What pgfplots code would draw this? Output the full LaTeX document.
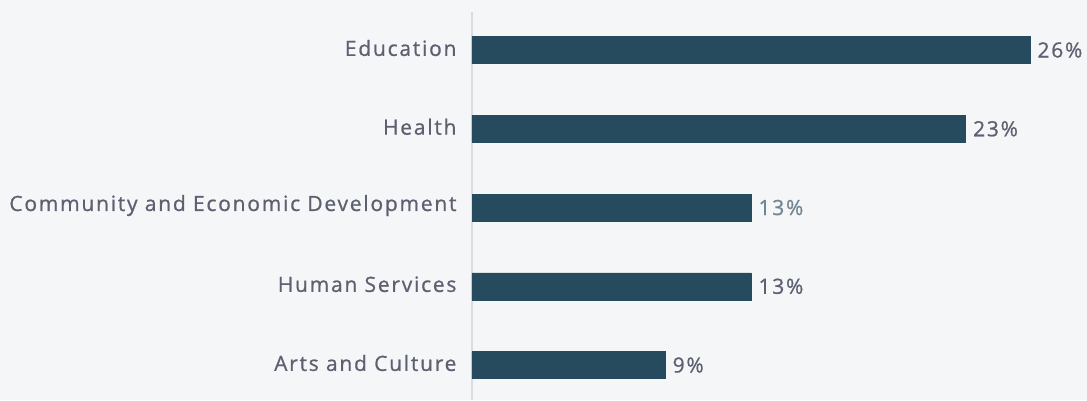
\documentclass[border=0pt]{standalone}
\usepackage{pgfplots}
\pgfplotsset{compat=1.18}
\usepackage{fontspec}
\setmainfont{Open Sans}[LetterSpace=8.4, FakeBold=0.8]
\definecolor{bg}{HTML}{F4F6F8}
\definecolor{barc}{HTML}{264A5E}
\definecolor{txt}{HTML}{5C6070}
\definecolor{txtl}{HTML}{728593}
\definecolor{axc}{HTML}{D9DCE0}
\begin{document}
\begin{tikzpicture}[x=1pt,y=1pt]
\fill[bg] (-472,0) rectangle (615,400);
\begin{axis}[
  at={(0,0)}, anchor=south west,
  scale only axis, width=558pt, height=388pt,
  xmin=0, xmax=26, ymin=-0.444, ymax=4.483,
  axis x line=none,
  axis y line*=left,
  y axis line style={draw=axc, line width=1.2pt, -},
  ytick={0,1,2,3,4},
  yticklabels={Arts and Culture,Human Services,Community and Economic Development,Health,Education},
  major tick length=0pt,
  yticklabel style={font=\fontsize{21}{24}\selectfont, text=txt, xshift=-12pt, yshift=2pt},
  xbar, bar width=27pt,
  nodes near coords,
  nodes near coords align={horizontal},
  nodes near coords style={font=\fontsize{21}{24}\selectfont, text=txt, anchor=west, xshift=4pt},
  point meta=explicit symbolic,
  clip=false,
]
\addplot[fill=barc, draw=barc, bar shift=0pt] coordinates {(9,0) [9\%] (13,1) [13\%] (23,3) [23\%] (26,4) [26\%]};
\addplot[fill=barc, draw=barc, bar shift=0pt, nodes near coords style={text=txtl}] coordinates {(13,2) [13\%]};
\end{axis}
\end{tikzpicture}
\end{document}
